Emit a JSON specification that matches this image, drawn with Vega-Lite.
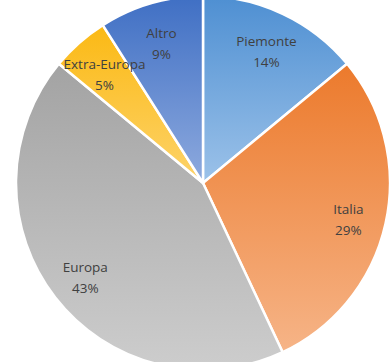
{
  "$schema": "https://vega.github.io/schema/vega-lite/v6.json",
  "width": 406,
  "height": 366,
  "autosize": {"type": "none"},
  "padding": 0,
  "background": "white",
  "config": {"view": {"stroke": null}},
  "data": {
    "values": [
      {"ordine": 1, "categoria": "Piemonte", "valore": 14, "etichetta": "Piemonte\n14%"},
      {"ordine": 2, "categoria": "Italia", "valore": 29, "etichetta": "Italia\n29%"},
      {"ordine": 3, "categoria": "Europa", "valore": 43, "etichetta": "Europa\n43%"},
      {"ordine": 4, "categoria": "Extra-Europa", "valore": 5, "etichetta": "Extra-Europa\n5%"},
      {"ordine": 5, "categoria": "Altro", "valore": 9, "etichetta": "Altro\n9%"}
    ]
  },
  "encoding": {
    "theta": {"field": "valore", "type": "quantitative", "stack": true},
    "order": {"field": "ordine", "type": "quantitative"}
  },
  "layer": [
    {
      "mark": {"type": "arc", "outerRadius": 187, "stroke": "white", "strokeWidth": 2.5},
      "encoding": {
        "fill": {
          "condition": [
            {"test": "datum.categoria === 'Piemonte'", "value": {"gradient": "linear", "x1": 0, "y1": 0, "x2": 0, "y2": 1, "stops": [{"offset": 0, "color": "#4e8fd2"}, {"offset": 1, "color": "#9cc2e9"}]}},
            {"test": "datum.categoria === 'Italia'", "value": {"gradient": "linear", "x1": 0, "y1": 0, "x2": 0, "y2": 1, "stops": [{"offset": 0, "color": "#ec7a2c"}, {"offset": 1, "color": "#f6b487"}]}},
            {"test": "datum.categoria === 'Europa'", "value": {"gradient": "linear", "x1": 0, "y1": 0, "x2": 0, "y2": 1, "stops": [{"offset": 0, "color": "#a3a3a3"}, {"offset": 1, "color": "#cdcdcd"}]}},
            {"test": "datum.categoria === 'Extra-Europa'", "value": {"gradient": "linear", "x1": 0, "y1": 0, "x2": 0, "y2": 1, "stops": [{"offset": 0, "color": "#fbb914"}, {"offset": 1, "color": "#fdd36a"}]}}
          ],
          "value": {"gradient": "linear", "x1": 0, "y1": 0, "x2": 0, "y2": 1, "stops": [{"offset": 0, "color": "#3f6fc4"}, {"offset": 1, "color": "#8eaade"}]}
        }
      }
    },
    {
      "mark": {"type": "text", "radius": 149, "dy": -6, "lineBreak": "\n", "font": "Open Sans", "fontSize": 13.5, "color": "#404040", "lineHeight": 21},
      "encoding": {
        "text": {"field": "etichetta", "type": "nominal"}
      }
    }
  ]
}
